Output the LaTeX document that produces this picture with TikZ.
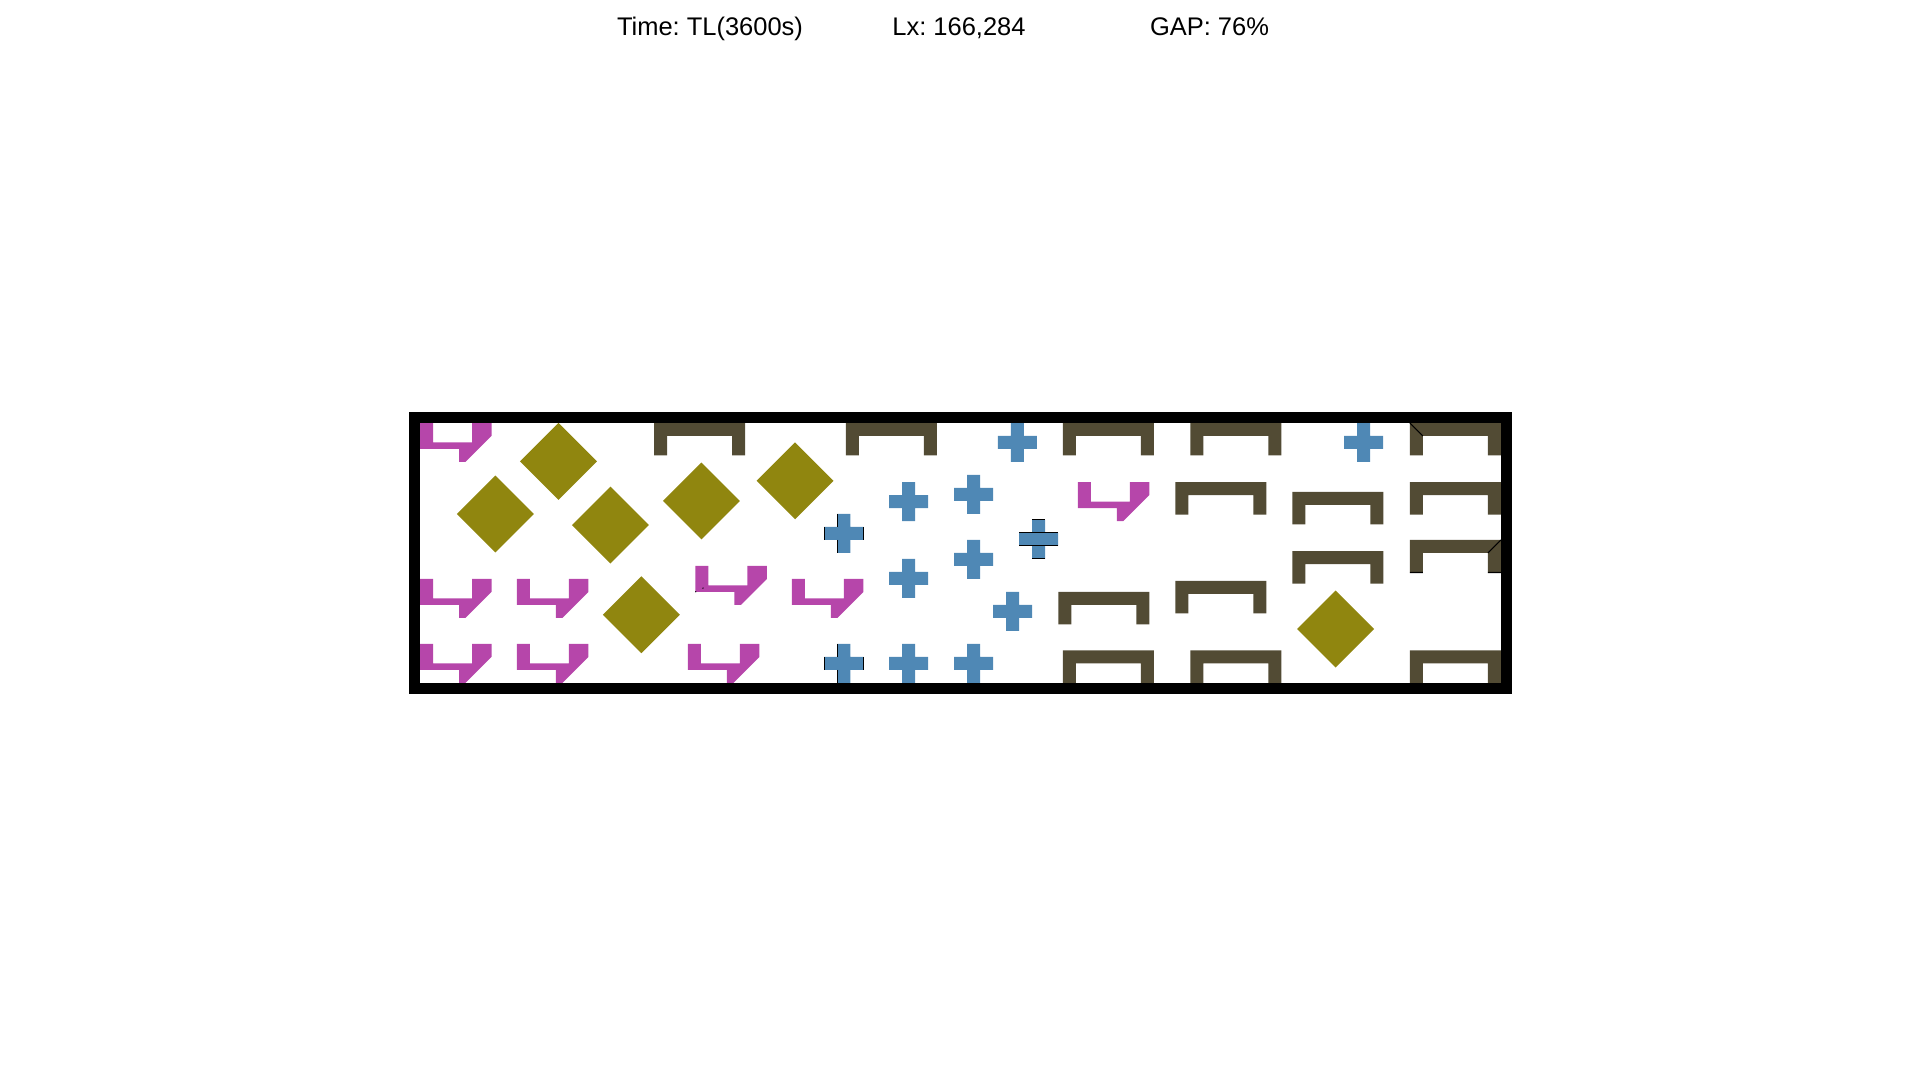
\documentclass[tikz,border=0pt]{standalone}
\usepackage{fontspec}
\setmainfont{Liberation Sans}
\usetikzlibrary{positioning}
\definecolor{hookcol}{HTML}{B646AA}
\definecolor{gemcol}{HTML}{90860F}
\definecolor{crosscol}{HTML}{4F88B5}
\definecolor{barcol}{HTML}{524B34}

\begin{document}
\begin{tikzpicture}[
    header/.style={
        font=\fontsize{7.25}{8.5}\selectfont\frenchspacing,
        anchor=base,
        inner sep=0pt
    },
    hook/.style={fill=hookcol},
    gem/.style={fill=gemcol},
    plus/.style={fill=crosscol},
    bracket/.style={fill=barcol},
    seam/.style={draw=black, line width=0.3pt},
    frame/.style={draw=black, line width=0.11cm}
]
\useasboundingbox (0,0) rectangle (19.2,10.8);

% header line
\node[header] (time) at (7.10,10.445) {Time: TL(3600s)};
\node[header] (lx) at (9.59,10.445) {Lx: 166,284};
\node[header] (gap) at (12.095,10.445) {GAP: 76\%};

\begin{scope}[shift={(4.2,3.97)}, x=0.065cm, y=0.065cm]
% hook pieces (top-left corner)
\foreach \px/\py in {0/40, 0/16, 14.9/16, 0/6, 14.9/6, 42.35/18, 57.2/16, 41.2/6, 101.2/30.9}
  \fill[hook, shift={(\px,\py)}] (0,0) -- (2,0) -- (2,-3) -- (8,-3) -- (8,0) -- (11,0)
      -- (11,-2) -- (7,-6) -- (6,-6) -- (6,-4) -- (0,-4) -- cycle;

% diamonds (centre)
\foreach \cx/\cy in {21.3/34.1, 11.6/26, 29.3/24.3, 43.3/28, 57.7/31.1, 34.05/10.5, 140.85/8.3}
  \fill[gem] (\cx,\cy) ++(0,5.92) -- ++(5.92,-5.92) -- ++(-5.92,-5.92) -- ++(-5.92,5.92) -- cycle;

% crosses (centre)
\foreach \cx/\cy in {91.9/37, 75.15/27.9, 85.15/29, 65.2/23, 85.15/19, 95.15/22.1,
                     75.15/16.1, 91.15/11, 65.2/3, 75.15/3, 85.15/3, 145.15/37}
  \fill[plus, shift={(\cx,\cy)}] (-1,3) -- (1,3) -- (1,1) -- (3,1) -- (3,-1) -- (1,-1)
      -- (1,-3) -- (-1,-3) -- (-1,-1) -- (-3,-1) -- (-3,1) -- (-1,1) -- cycle;

% brackets (top-left corner)
\foreach \px/\py in {36/40, 65.5/40, 98.9/40, 118.5/40, 152.28/40, 116.2/30.9, 134.2/29.4,
                     152.28/30.9, 134.2/20.3, 152.28/22, 98.2/14, 116.2/15.7,
                     98.9/5, 118.5/5, 152.28/5}
  \fill[bracket, shift={(\px,\py)}] (0,0) -- (14,0) -- (14,-5) -- (12,-5) -- (12,-2)
      -- (2,-2) -- (2,-5) -- (0,-5) -- cycle;

% seams where pieces touch
\foreach \cy in {23, 3}
  \draw[seam, shift={(65.2,\cy)}] (-1,3) -- (-1,1) (-1,-1) -- (-1,-3) (-3,1) -- (-3,-1) (3,1) -- (3,-1);
\draw[seam, shift={(95.15,22.1)}] (-1,3) -- (1,3) (-3,1) -- (3,1) (-3,-1) -- (3,-1) (-1,-3) -- (1,-3);
\draw[seam, shift={(152.28,40)}] (0,0) -- (2,-2);
\draw[seam, shift={(152.28,22)}] (14,0) -- (12,-2) (0,-5) -- (2,-5) (12,-5) -- (14,-5);
\draw[seam, dotted, shift={(42.35,18)}] (0,-4) -- (2,-3);

% strip
\draw[frame] (-0.846,-0.846) rectangle (167.13,40.846);
\end{scope}
\end{tikzpicture}
\end{document}
